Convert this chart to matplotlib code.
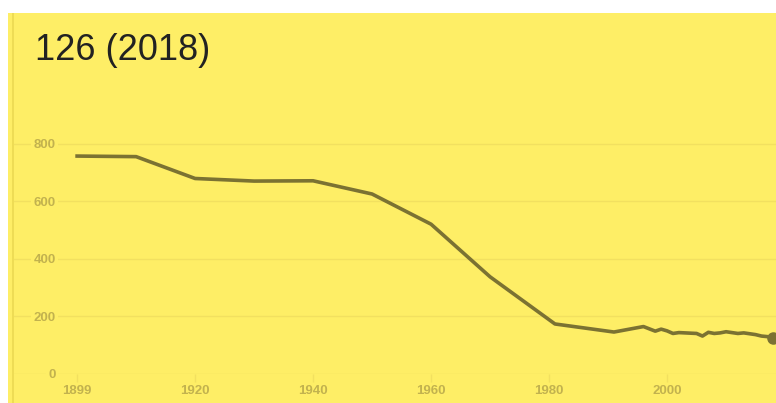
import numpy as np
import pandas as pd
import matplotlib
matplotlib.use("Agg")
import matplotlib.pyplot as plt
import matplotlib.dates as mdates
from matplotlib.patches import Rectangle

# population figures
dates = ["1899-12-31", "1910-01-01", "1920-01-01", "1930-01-01", "1940-01-01",
         "1950-01-01", "1960-01-01", "1970-01-01", "1981-01-01", "1991-01-01",
         "1996-01-01", "1998-01-01", "1999-01-01", "2000-01-01", "2001-01-01",
         "2002-01-01", "2003-01-01", "2004-01-01", "2005-01-01", "2006-01-01",
         "2007-01-01", "2008-01-01", "2009-01-01", "2010-01-01", "2011-01-01",
         "2012-01-01", "2013-01-01", "2014-01-01", "2015-01-01", "2016-01-01",
         "2017-01-01", "2018-01-01"]
values = [758, 756, 680, 671, 672,
          626, 521, 338, 174, 146,
          165, 149, 156, 150, 141,
          144, 143, 142, 141, 132,
          145, 141, 143, 147, 144,
          141, 143, 140, 137, 132,
          130, 126]
tick_dates = ["1899-12-31", "1920-01-01", "1940-01-01", "1960-01-01", "1980-01-01", "2000-01-01"]
y_ticks = [0, 200, 400, 600, 800]
title = "126 (2018)"

yellow = "#feee66"
line_col = "#7b7232"
grid_col = "#f2e060"
lab_col = "#c2b24e"

x = pd.to_datetime(dates)

fig = plt.figure(figsize=(7.76, 4.03), dpi=100)
fig.patch.set_facecolor("white")
# yellow panel + left border
fig.patches.append(Rectangle((8/776, 0), 1, 1 - 13/403, transform=fig.transFigure,
                             facecolor=yellow, edgecolor="none", zorder=-5))
fig.patches.append(Rectangle((12/776, 0), 2/776, 1 - 13/403, transform=fig.transFigure,
                             facecolor="#eedc55", edgecolor="none", zorder=-4))

ax = fig.add_axes([14/776, 29/403, 762/776, 274/403])
ax.set_zorder(2)
ax.set_facecolor("none")
ax.plot(x, values, color=line_col, lw=2.6, solid_joinstyle="round", zorder=3)
ax.plot(x[-1:], values[-1:], "o", color=line_col, ms=8, zorder=4, clip_on=True)

ax.set_xlim(pd.Timestamp("1889-04-20"), pd.Timestamp("2018-06-20"))
ax.set_ylim(0, 953)

ax.set_xticks(pd.to_datetime(tick_dates))
ax.xaxis.set_major_formatter(mdates.DateFormatter("%Y"))
ax.set_yticks(y_ticks)
ax.grid(axis="y", color=grid_col, lw=1)
ax.set_axisbelow(True)
for s in ax.spines.values():
    s.set_visible(False)

ax.tick_params(axis="x", length=6, width=1, color=grid_col, labelcolor=lab_col,
               labelsize=9.5, pad=2)
ax.tick_params(axis="y", length=0, labelcolor=lab_col, labelsize=9.5, pad=-30)
for lbl in ax.get_xticklabels() + ax.get_yticklabels():
    lbl.set_fontweight("bold")
    lbl.set_fontfamily("Liberation Sans")
for lbl in ax.get_yticklabels():
    lbl.set_bbox(dict(facecolor=yellow, edgecolor="none", pad=2))

fig.text(35/776, 1 - 50/403, title, fontsize=26, color="#222222",
         family="Liberation Sans", va="center", ha="left", zorder=5)

fig.savefig("out.png", dpi=100)
